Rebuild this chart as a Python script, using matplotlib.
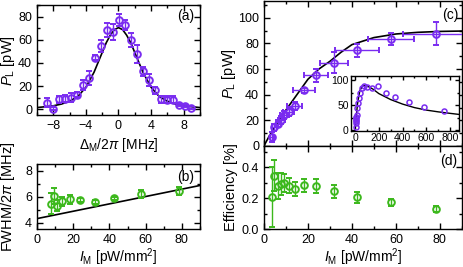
import matplotlib
matplotlib.use("Agg")
import matplotlib.pyplot as plt
from matplotlib.ticker import MultipleLocator, FormatStrFormatter

plt.rcParams["font.family"] = ["Liberation Sans", "DejaVu Sans"]
plt.rcParams["mathtext.fontset"] = "custom"
plt.rcParams["mathtext.rm"] = "Liberation Sans"
plt.rcParams["mathtext.it"] = "Liberation Sans:italic"
plt.rcParams["font.size"] = 10.5
plt.rcParams["xtick.labelsize"] = 9
plt.rcParams["ytick.labelsize"] = 9

PURPLE = "#7a2cf0"
GREEN = "#3cb81c"

# (a) spectrum
detuning = [-8.75, -8.0, -7.3, -6.55, -5.8, -5.1, -4.35, -3.6, -2.9, -2.15, -1.4, -0.7, 0.05,
            0.8, 1.5, 2.25, 3.0, 3.7, 4.45, 5.2, 5.95, 6.7, 7.45, 8.2, 8.95]
spec_power = [5.7, 0.5, 8.5, 9.1, 10.0, 12.6, 20.9, 27.4, 44.6, 54.8, 68.3, 66.5, 76.9,
              72.9, 59.7, 47.7, 32.9, 25.3, 16.4, 8.5, 8.2, 8.2, 3.8, 2.6, 1.4]
spec_err = [4, 1.5, 3, 3, 4, 2, 4, 6, 2, 5, 6, 7, 5, 4, 6, 8, 4, 5, 3, 3, 3, 3, 1, 1, 1.5]
fit_detuning = [-10, -9, -8, -7, -6, -5, -4, -3, -2.5, -2, -1.5, -1, -0.5, 0,
                0.5, 1, 1.5, 2, 2.5, 3, 4, 5, 6, 7, 8, 9, 10]
fit_spec = [1.5, 2.2, 3.0, 4.5, 7.0, 11.0, 19.0, 32.0, 40.5, 49.0, 57.5, 64.0, 68.8, 70.5,
            68.8, 64.0, 57.5, 49.0, 40.5, 32.0, 19.0, 11.0, 7.0, 4.5, 3.0, 2.2, 1.5]

# pump intensity series shared by (b), (c), (d)
intensity = [3.6, 4.8, 6.6, 7.9, 9.3, 11.2, 14.0, 18.0, 23.7, 31.8, 42.5, 57.7, 78.3]
intensity_err = [0.8, 1.0, 1.3, 1.6, 1.9, 2.3, 3.5, 5.0, 5.5, 6.5, 10.0, 10.5, 15.0]

# (b) linewidth
fwhm = [5.45, 6.05, 5.3, 5.65, 5.8, 5.7, 5.55, 5.85, 6.2, 6.4]
fwhm_err = [0.8, 0.6, 0.45, 0.35, 0.35, 0.15, 0.15, 0.15, 0.3, 0.3]
fwhm_line_x = [0, 90]
fwhm_line_y = [4.3, 6.85]

# (c) output power
power = [7.0, 14.5, 17.5, 20.0, 24.0, 26.5, 31.0, 43.5, 55.0, 65.0, 74.5, 83.5, 87.5]
power_err = [4, 3, 3, 3, 3, 3, 3, 2, 5, 8, 5, 4.5, 9]
fit_i = [0, 2.5, 5, 7.5, 10, 15, 20, 25, 30, 35, 40, 50, 60, 70, 80, 90]
fit_p = [0, 8, 15, 22, 28, 40, 52, 60, 66, 73, 79, 84.5, 87.3, 88.6, 89.3, 89.6]

# inset: extended range
inset_i_extra = [100, 140, 190, 260, 340, 450, 580, 750]
inset_p_extra = [86, 84, 88, 75, 66, 57, 47, 39]
inset_fit_i = [0, 10, 20, 30, 40, 60, 80, 100, 150, 200, 300, 400, 500, 600, 700, 800, 870]
inset_fit_p = [0, 28, 52, 66, 79, 87.5, 89.5, 88.5, 82, 73, 61, 52, 45, 40, 36.5, 33.5, 31.5]

# (d) efficiency
efficiency = [0.208, 0.346, 0.277, 0.294, 0.299, 0.281, 0.26, 0.283, 0.277, 0.244, 0.205, 0.173, 0.132]
efficiency_err = [0.195, 0.1, 0.085, 0.07, 0.06, 0.05, 0.045, 0.04, 0.045, 0.045, 0.035, 0.025, 0.02]


def style(ax, xmaj, xmin, ymaj, ymin):
    ax.xaxis.set_major_locator(MultipleLocator(xmaj))
    ax.xaxis.set_minor_locator(MultipleLocator(xmin))
    ax.yaxis.set_major_locator(MultipleLocator(ymaj))
    ax.yaxis.set_minor_locator(MultipleLocator(ymin))
    ax.tick_params(which="both", direction="in", top=True, right=True, width=1.0)
    ax.tick_params(which="major", length=4)
    ax.tick_params(which="minor", length=2)
    for s in ax.spines.values():
        s.set_linewidth(1.0)


def points(ax, x, y, yerr, color, xerr=None, ms=4.8):
    ax.errorbar(x, y, yerr=yerr, xerr=xerr, fmt="o", mfc="none", mec=color, ecolor=color,
                ms=ms, mew=1.4, elinewidth=1.0, capsize=2, capthick=1.0, zorder=3)


fig = plt.figure(figsize=(4.63, 2.67), dpi=100)
ax_a = fig.add_axes([0.0799, 0.569, 0.352, 0.412])
ax_b = fig.add_axes([0.0799, 0.1423, 0.352, 0.2434])
ax_c = fig.add_axes([0.570, 0.4532, 0.4277, 0.543])
ax_d = fig.add_axes([0.570, 0.1423, 0.4277, 0.311])
ax_in = fig.add_axes([0.758, 0.509, 0.2333, 0.206])

# (a)
ax_a.plot(fit_detuning, fit_spec, color="black", lw=1.2, zorder=2)
points(ax_a, detuning, spec_power, spec_err, PURPLE)
ax_a.set_xlim(-10, 10)
ax_a.set_ylim(-5, 90)
style(ax_a, 4, 2, 20, 10)
ax_a.set_xlabel(r"$\Delta_{\rm M}/2\pi$ [MHz]", fontsize=10)
ax_a.set_ylabel(r"$P_{\rm L}$ [pW]")
ax_a.xaxis.set_label_coords(0.5, -0.19)
ax_a.yaxis.set_label_coords(-0.125, 0.5)
ax_a.text(0.963, 0.9, "(a)", transform=ax_a.transAxes, ha="right", va="center", fontsize=10)

# (b)
ax_b.plot(fwhm_line_x, fwhm_line_y, color="black", lw=1.2, zorder=2)
points(ax_b, intensity[3:], fwhm, fwhm_err, GREEN)
ax_b.set_xlim(0, 90)
ax_b.set_ylim(3.5, 8.5)
style(ax_b, 20, 10, 2, 1)
ax_b.set_xlabel(r"$I_{\rm M}$ [pW/mm$^2$]", fontsize=10)
ax_b.set_ylabel(r"FWHM/2$\pi$ [MHz]")
ax_b.xaxis.set_label_coords(0.5, -0.27)
ax_b.yaxis.set_label_coords(-0.125, 0.5)
ax_b.text(0.966, 0.805, "(b)", transform=ax_b.transAxes, ha="right", va="center", fontsize=10)

# (c)
ax_c.plot(fit_i, fit_p, color="black", lw=1.2, zorder=2)
points(ax_c, intensity, power, power_err, PURPLE, xerr=intensity_err)
ax_c.set_xlim(0, 90)
ax_c.set_ylim(0, 113)
style(ax_c, 20, 10, 20, 10)
ax_c.tick_params(labelbottom=False)
ax_c.set_ylabel(r"$P_{\rm L}$ [pW]")
ax_c.yaxis.set_label_coords(-0.13, 0.5)
ax_c.text(0.985, 0.903, "(c)", transform=ax_c.transAxes, ha="right", va="center", fontsize=10)

# inset
ax_in.plot(inset_fit_i, inset_fit_p, color="black", lw=1.0, zorder=2)
ax_in.plot(intensity + inset_i_extra, power + inset_p_extra, "o", mfc="none", mec=PURPLE,
           ms=3.6, mew=1.1, zorder=3)
ax_in.set_xlim(-35, 875)
ax_in.set_ylim(-2, 108)
style(ax_in, 200, 100, 50, 25)
ax_in.tick_params(which="major", length=3, labelsize=7.5, pad=1.5)
ax_in.tick_params(which="minor", length=1.5)

# (d)
points(ax_d, intensity, efficiency, efficiency_err, GREEN)
ax_d.set_xlim(0, 90)
ax_d.set_ylim(0, 0.54)
style(ax_d, 20, 10, 0.2, 0.1)
ax_d.yaxis.set_major_formatter(FormatStrFormatter("%.1f"))
ax_d.set_xlabel(r"$I_{\rm M}$ [pW/mm$^2$]", fontsize=10)
ax_d.set_ylabel("Efficiency [%]")
ax_d.xaxis.set_label_coords(0.5, -0.212)
ax_d.yaxis.set_label_coords(-0.13, 0.5)
ax_d.text(0.975, 0.82, "(d)", transform=ax_d.transAxes, ha="right", va="center", fontsize=10)

fig.savefig("out.png", dpi=100)
